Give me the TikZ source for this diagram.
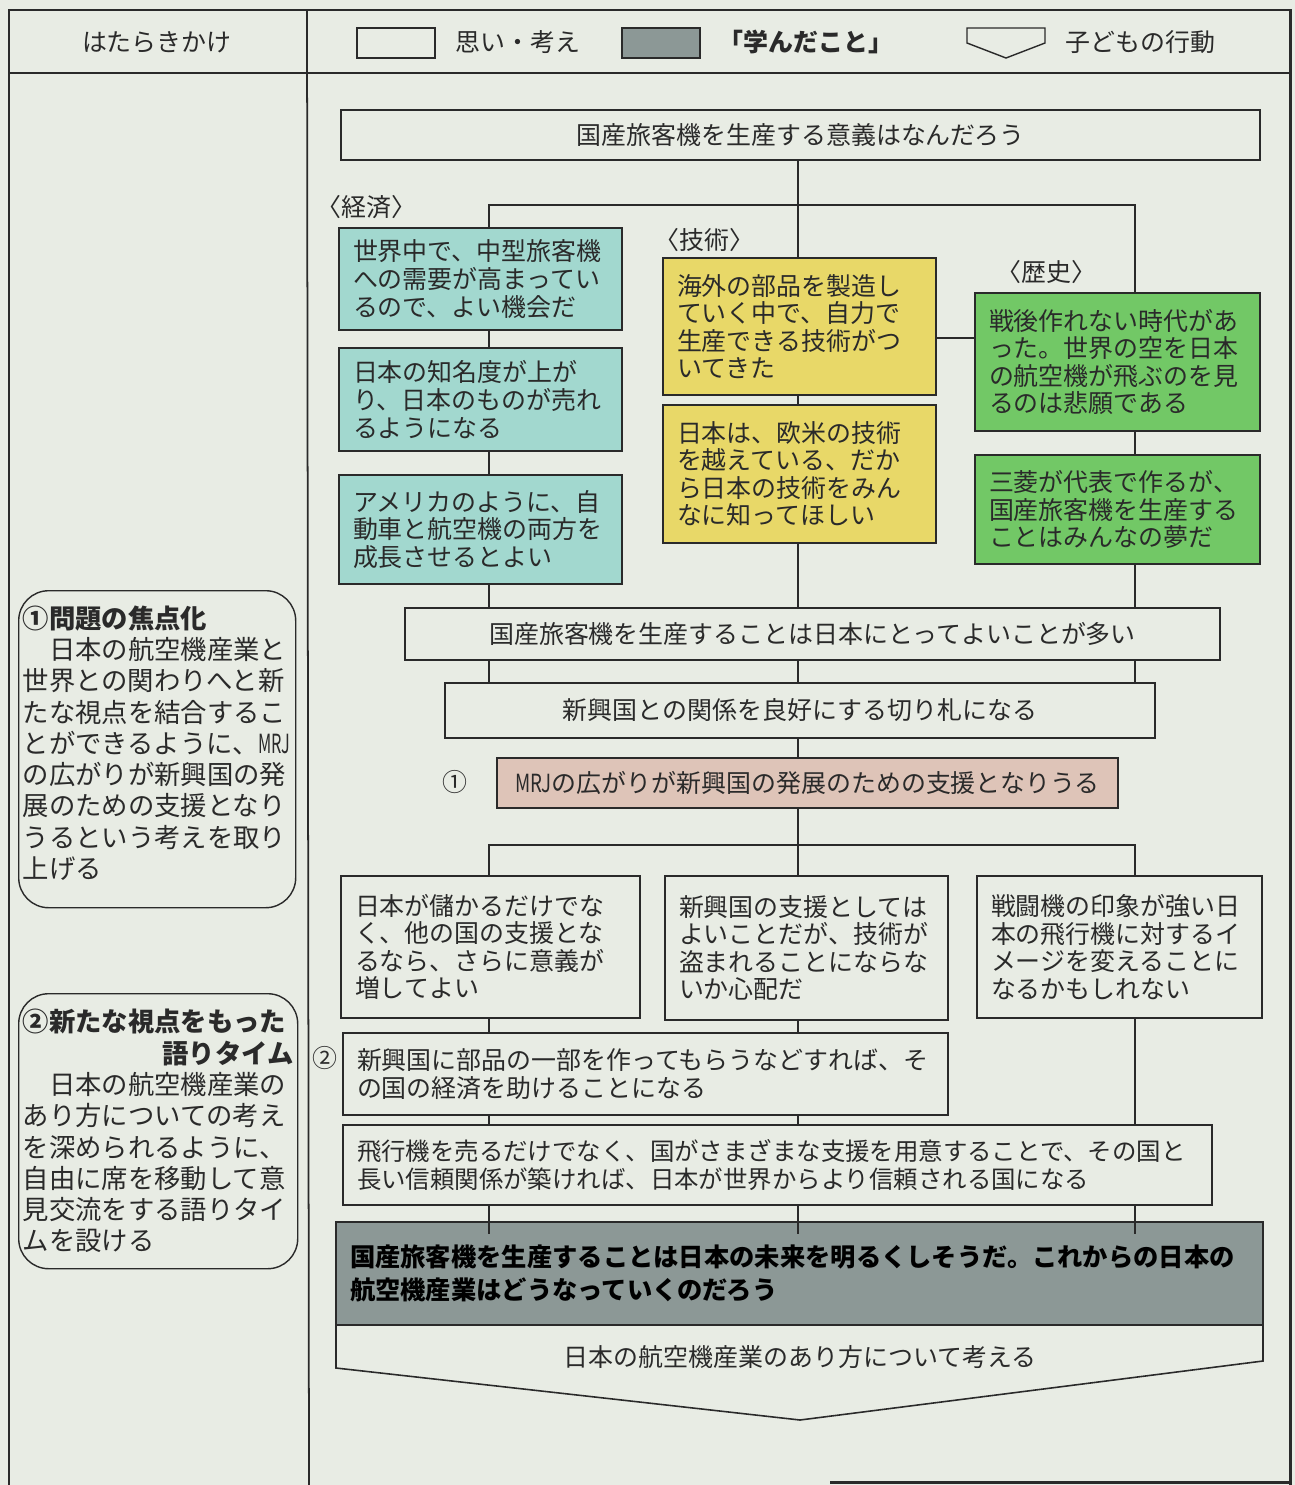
\documentclass[tikz,border=0pt]{standalone}
\usepackage{fontspec}
\setmainfont{Noto Sans CJK JP}
\usetikzlibrary{calc}
\definecolor{paper}{HTML}{E8ECE4}
\definecolor{tealc}{HTML}{A2D8CF}
\definecolor{yelc}{HTML}{E8D868}
\definecolor{grnc}{HTML}{72C866}
\definecolor{pinkc}{HTML}{DEC4B8}
\definecolor{grayc}{HTML}{8C9896}
\definecolor{ink}{HTML}{2A2A2A}
\newcommand\bxfont{\fontsize{14.2pt}{15.7pt}\selectfont}
\newcommand\lfont{\fontsize{15pt}{17.8pt}\selectfont}
\newcommand\bx[7]{\node[#6, anchor=north west, minimum width={(#4-#2)*0.02cm}, minimum height={(#5-#3)*0.02cm}, text width={(#4-#2)*0.02cm-0.56cm}] (#1) at (#2,#3) {#7};}
\begin{document}
\begin{tikzpicture}[x=0.02cm,y=-0.02cm,
  box/.style={draw=ink, line width=0.75pt, inner xsep=0.28cm, inner ysep=0pt, outer sep=0pt, align=left, font=\bxfont, text=ink},
  cbox/.style={box, align=center},
  tealbox/.style={box, fill=tealc},
  yelbox/.style={box, fill=yelc},
  grnbox/.style={box, fill=grnc},
  conn/.style={draw=ink, line width=0.7pt},
  frame/.style={draw=ink, line width=1.7pt},
  lbox/.style={draw=ink, line width=0.8pt, rounded corners=0.6cm, inner xsep=0.08cm, inner ysep=0pt, align=left, font=\lfont, text=ink, anchor=north west},
  lbl/.style={font=\bxfont, text=ink, inner sep=0pt}
]
\useasboundingbox (0,0) rectangle (1295,1485);
\fill[paper] (0,0) rectangle (1295,1485);

% frame
\draw[frame] (9,1485) -- (9,10) -- (1290,10) -- (1290,1485);
\draw[frame] (9,73) -- (1290,73);
\draw[frame] (830,1482) -- (1290,1482);
\draw[draw=ink, line width=1pt] (307,10) -- (309,1485);

% header
\node[lbl] (h0) at (157,42) {はたらきかけ};
\node[draw=ink, line width=0.8pt, minimum width={78*0.02cm}, minimum height={30*0.02cm}, inner sep=0pt] (lg1) at (396,43) {};
\node[lbl, anchor=west] (lg1t) at (455,42) {思い・考え};
\node[draw=ink, fill=grayc, line width=0.8pt, minimum width={78*0.02cm}, minimum height={30*0.02cm}, inner sep=0pt] (lg2) at (661,43) {};
\node[lbl, anchor=west, font=\bxfont\bfseries] (lg2t) at (718,42) {「学んだこと」};
\coordinate (lg3) at (1006,43);
\draw[draw=ink, line width=0.8pt] ($(lg3)+(-39,-15)$) -- ($(lg3)+(39,-15)$) -- ($(lg3)+(39,0)$) -- ($(lg3)+(0,15)$) -- ($(lg3)+(-39,0)$) -- cycle;
\node[lbl, anchor=west] (lg3t) at (1065,42) {子どもの行動};

% main boxes
\bx{top}{341}{110}{1260}{160}{cbox}{国産旅客機を生産する意義はなんだろう}
\node[lbl, anchor=west] (k1) at (316,207) {〈経済〉};
\node[lbl, anchor=west] (k2) at (654,240) {〈技術〉};
\node[lbl, anchor=west] (k3) at (996,272) {〈歴史〉};

\bx{e1}{339}{228}{622}{330}{tealbox}{世界中で、中型旅客機\\への需要が高まってい\\るので、よい機会だ}
\bx{e2}{339}{348}{622}{451}{tealbox}{日本の知名度が上が\\り、日本のものが売れ\\るようになる}
\bx{e3}{339}{475}{622}{584}{tealbox}{アメリカのように、自\\動車と航空機の両方を\\成長させるとよい}
\bx{t1}{663}{258}{936}{395}{yelbox}{海外の部品を製造し\\ていく中で、自力で\\生産できる技術がつ\\いてきた}
\bx{t2}{663}{405}{936}{543}{yelbox}{日本は、欧米の技術\\を越えている、だか\\ら日本の技術をみん\\なに知ってほしい}
\bx{h1}{975}{293}{1260}{431}{grnbox}{戦後作れない時代があ\\った。世界の空を日本\\の航空機が飛ぶのを見\\るのは悲願である}
\bx{h2}{975}{455}{1260}{564}{grnbox}{三菱が代表で作るが、\\国産旅客機を生産する\\ことはみんなの夢だ}

\bx{q1}{405}{608}{1220}{660}{cbox}{国産旅客機を生産することは日本にとってよいことが多い}
\bx{q2}{445}{683}{1155}{738}{cbox, line width=1.5pt}{新興国との関係を良好にする切り札になる}
\bx{mrj}{497}{758}{1118}{808}{cbox, fill=pinkc}{\scalebox{0.75}[1]{MRJ}の広がりが新興国の発展のための支援となりうる}
\node[lbl] (n1) at (455,782) {①};

\bx{r1}{341}{876}{640}{1018}{box}{日本が儲かるだけでな\\く、他の国の支援とな\\るなら、さらに意義が\\増してよい}
\bx{r2}{665}{876}{948}{1020}{box}{新興国の支援としては\\よいことだが、技術が\\盗まれることにならな\\いか心配だ}
\bx{r3}{977}{876}{1262}{1018}{box}{戦闘機の印象が強い日\\本の飛行機に対するイ\\メージを変えることに\\なるかもしれない}
\bx{s1}{343}{1033}{948}{1115}{box}{新興国に部品の一部を作ってもらうなどすれば、そ\\の国の経済を助けることになる}
\node[lbl] (n2) at (325,1058) {②};
\bx{s2}{343}{1125}{1212}{1205}{box, font=\fontsize{13.9pt}{15.7pt}\selectfont}{飛行機を売るだけでなく、国がさまざまな支援を用意することで、その国と\\長い信頼関係が築ければ、日本が世界からより信頼される国になる}
\bx{g}{336}{1222}{1263}{1325}{box, fill=grayc, inner xsep=0.06cm, text width={927*0.02cm-0.12cm}, font=\fontsize{14.4pt}{18.8pt}\selectfont\bfseries, text=black}{国産旅客機を生産することは日本の未来を明るくしそうだ。これからの日本の\\航空機産業はどうなっていくのだろう}

% action arrow
\coordinate (tip) at (800,1420);
\draw[draw=ink, line width=0.9pt] (g.south east) -- ($(g.south east)+(0,36)$) -- (tip) -- ($(g.south west)+(0,43)$) -- (g.south west);
\node[lbl] (act) at (800,1357) {日本の航空機産業のあり方について考える};

% connectors
\coordinate (xE) at (489,0);
\coordinate (xC) at (798,0);
\coordinate (xH) at (1135,0);
\coordinate (bus1) at (0,205);
\coordinate (bus2) at (0,845);
\coordinate (hl) at (0,338);
\draw[conn] (top.south -| xC) -- (t1.north -| xC);
\draw[conn] (e1.north -| xE) -- (bus1 -| xE) -- (bus1 -| xH) -- (h1.north -| xH);
\draw[conn] (e1.south -| xE) -- (e2.north -| xE);
\draw[conn] (e2.south -| xE) -- (e3.north -| xE);
\draw[conn] (t1.south -| xC) -- (t2.north -| xC);
\draw[conn] (h1.south -| xH) -- (h2.north -| xH);
\draw[conn] (t1.east |- hl) -- (h1.west |- hl);
\draw[conn] (e3.south -| xE) -- (q1.north -| xE);
\draw[conn] (t2.south -| xC) -- (q1.north -| xC);
\draw[conn] (h2.south -| xH) -- (q1.north -| xH);
\foreach \c in {xE,xC,xH} \draw[conn] (q1.south -| \c) -- (q2.north -| \c);
\draw[conn] (q2.south -| xC) -- (mrj.north -| xC);
\draw[conn] (mrj.south -| xC) -- (bus2 -| xC);
\draw[conn] (r1.north -| xE) -- (bus2 -| xE) -- (bus2 -| xH) -- (r3.north -| xH);
\draw[conn] (bus2 -| xC) -- (r2.north -| xC);
\draw[conn] (r1.south -| xE) -- (s1.north -| xE);
\draw[conn] (r2.south -| xC) -- (s1.north -| xC);
\draw[conn] (r3.south -| xH) -- (s2.north -| xH);
\foreach \c in {xE,xC} \draw[conn] (s1.south -| \c) -- (s2.north -| \c);
\foreach \c in {xE,xC,xH} \draw[conn] (s2.south -| \c) -- ($(g.north -| \c)+(0,12)$);

% left column
\node[lbox, minimum width={277*0.02cm}, minimum height={317*0.02cm}, text width={277*0.02cm-0.16cm}] (L1) at (18,590) {{\bfseries ①問題の焦点化}\\
　日本の航空機産業と\\
世界との関わりへと新\\
たな視点を結合するこ\\
とができるように、\scalebox{0.62}[1]{MRJ}\\
の広がりが新興国の発\\
展のための支援となり\\
うるという考えを取り\\
上げる\\[-0.34cm]\mbox{}};
\node[lbox, minimum width={279*0.02cm}, minimum height={275*0.02cm}, text width={279*0.02cm-0.16cm}] (L2) at (18,993) {{\bfseries ②新たな視点をもった}\\
\makebox[\linewidth][r]{\bfseries 語りタイム}\\
　日本の航空機産業の\\
あり方についての考え\\
を深められるように、\\
自由に席を移動して意\\
見交流をする語りタイ\\
ムを設ける};
\end{tikzpicture}
\end{document}
